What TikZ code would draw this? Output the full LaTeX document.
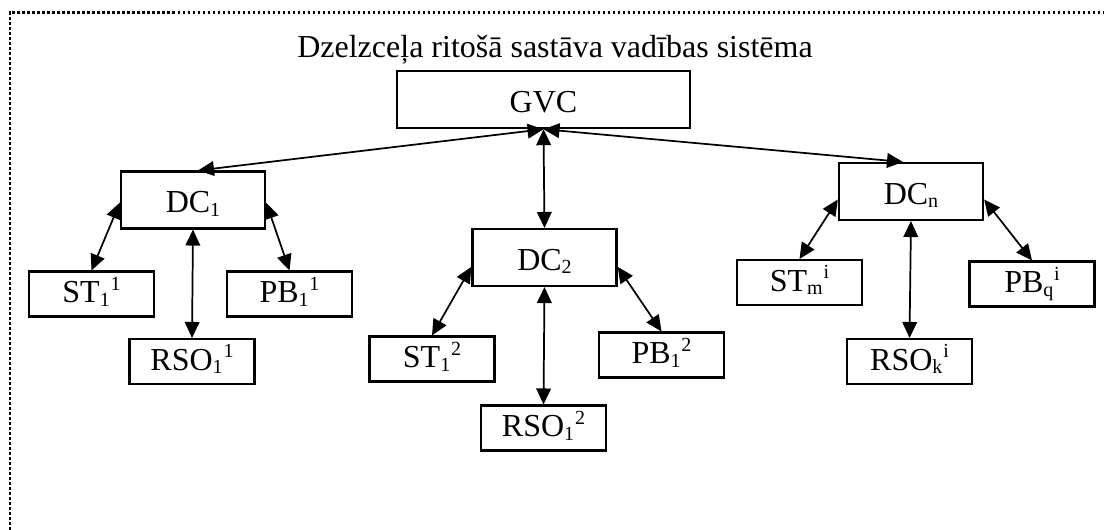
\documentclass[tikz,border=0pt]{standalone}
\usepackage{fontspec}
\setmainfont{Liberation Serif}
\usetikzlibrary{arrows.meta}
% small raised / lowered indices set after the letters
\newcommand{\lowidx}[1]{\raisebox{-2.5pt}{\fontsize{15}{15}\selectfont #1}}
\newcommand{\highidx}[1]{\kern0.6pt\raisebox{9.5pt}{\fontsize{15}{15}\selectfont #1}}
\begin{document}
\begin{tikzpicture}[x=0.75pt,y=-0.75pt,
  every node/.style={font=\fontsize{24}{28}\selectfont},
  bigbox/.style={draw,line width=1.8pt,minimum width=108pt,minimum height=42.5pt,
    inner sep=0pt,text height=22pt,text depth=2.6pt},
  smallbox/.style={draw,line width=1.8pt,minimum width=94pt,minimum height=33.5pt,
    inner sep=0pt,text height=17pt,text depth=4pt},
  link/.style={line width=1.3pt,{Triangle[length=12pt,width=11pt]}-{Triangle[length=12pt,width=11pt]}}]
\useasboundingbox (0,0) rectangle (1104,529);
\clip (0,0) rectangle (1104,529);

% dotted outer frame
\draw[line width=2.2pt,dash pattern=on 2pt off 1.75pt] (10,540) -- (10,12.5) -- (1110,12.5);

% title
\node[anchor=base,inner sep=0pt] (title) at (555,57) {Dzelzceļa ritošā sastāva vadības sistēma};

% top level
\node[bigbox,minimum width=220pt,minimum height=42.75pt] (gvc) at (543.5,99.5) {GVC};

% district controllers
\node[bigbox] (dc1) at (193,200) {DC\lowidx{1}};
\node[bigbox] (dc2) at (544.5,257.5) {DC\lowidx{2}};
\node[bigbox] (dcn) at (911,191.5) {DC\lowidx{n}};

% subordinate units of DC1
\node[smallbox] (st11) at (91.5,294) {ST\lowidx{1}\highidx{1}};
\node[smallbox] (pb11) at (289.5,294) {PB\lowidx{1}\highidx{1}};
\node[smallbox] (rso11) at (192,361.5) {RSO\lowidx{1}\highidx{1}};

% subordinate units of DC2
\node[smallbox] (st12) at (432,359) {ST\lowidx{1}\highidx{2}};
\node[smallbox] (pb12) at (661.5,355) {PB\lowidx{1}\highidx{2}};
\node[smallbox] (rso12) at (543.5,428) {RSO\lowidx{1}\highidx{2}};

% subordinate units of DCn
\node[smallbox] (stm) at (799.5,282.5) {ST\lowidx{m}\highidx{i}};
\node[smallbox] (pbq) at (1032,284) {PB\lowidx{q}\highidx{i}};
\node[smallbox] (rsok) at (909.5,361.5) {RSO\lowidx{k}\highidx{i}};

% connections
\draw[link] (gvc.south) -- ([xshift=3.75pt]dc1.north);
\draw[link] (gvc.south) -- (dc2.north);
\draw[link] (gvc.south) -- ([xshift=-6pt]dcn.north);

\draw[link] ([yshift=-2pt]dc1.west) -- (st11.north);
\draw[link] ([yshift=-2pt]dc1.east) -- (pb11.north);
\draw[link] (dc1.south) -- (rso11.north);

\draw[link] ([yshift=-7pt]dc2.west) -- (st12.north);
\draw[link] ([yshift=-7pt]dc2.east) -- (pb12.north);
\draw[link] (dc2.south) -- (rso12.north);

\draw[link] ([yshift=-6pt]dcn.west) -- (stm.north);
\draw[link] ([yshift=-6pt]dcn.east) -- (pbq.north);
\draw[link] (dcn.south) -- (rsok.north);
\end{tikzpicture}
\end{document}
